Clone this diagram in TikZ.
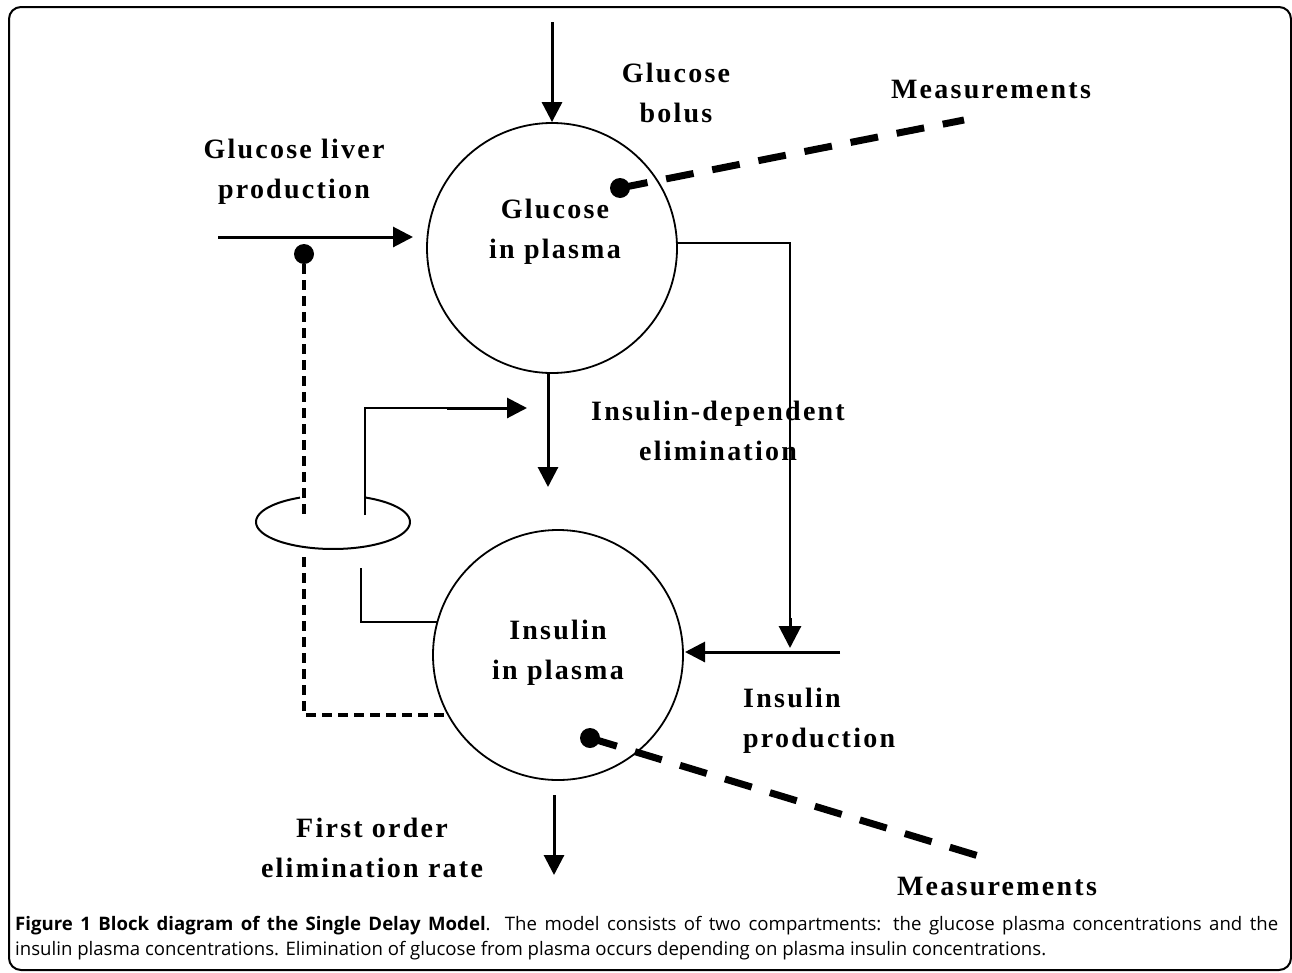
\documentclass[tikz,border=0pt]{standalone}
\usepackage{fontspec}
\setmainfont{Liberation Serif}
\newfontfamily\lab[LetterSpace=8]{Liberation Serif}
\newfontfamily\capfont{Open Sans}
\usetikzlibrary{arrows.meta}
\begin{document}
\begin{tikzpicture}[x=1pt,y=-1pt,
  lbl/.style={font=\lab\bfseries\fontsize{28}{40}\selectfont, inner sep=0, align=center},
  comp/.style={circle, draw, line width=1.8pt, minimum size=250pt, inner sep=0},
  flow/.style={line width=3pt, -{Triangle[length=20pt,width=20pt]}},
  thinline/.style={line width=2pt},
  meas/.style={line width=7pt, dash pattern=on 28pt off 19pt},
  ctrl/.style={line width=4pt, dash pattern=on 10pt off 6pt},
  dot/.style={circle, fill, minimum size=20pt, inner sep=0}]
\useasboundingbox (0,0) rectangle (1292,972);
% frame
\draw[line width=2pt, rounded corners=12pt] (9,7) rectangle (1291,970);

% compartments
\node[comp] (G) at (552,248) {};
\node[comp] (I) at (558,655) {};
\node[lbl] (Gt) at (555,232) {Glucose\\in plasma};
\node[lbl] (It) at (558,653) {Insulin\\in plasma};

% labels
\node[lbl] (bolus) at (676,93) {Glucose\\bolus};
\node[lbl] (m1) at (991,90) {Measurements};
\node[lbl] (liver) at (294,172) {Glucose liver\\production};
\node[lbl] (ide) at (718,431) {Insulin-dependent\\elimination};
\node[lbl, align=left, anchor=north west] (ip) at (743,688) {Insulin\\production};
\node[lbl] (foe) at (372,848) {First order\\elimination rate};
\node[lbl] (m2) at (997,886) {Measurements};

% coordinates
\coordinate (bolusS) at (552,22);
\coordinate (liverS) at (218,237);
\coordinate (liverE) at (413,237);
\coordinate (gout) at (548,373);
\coordinate (gdown) at (548,487);
\coordinate (gR) at (677,243);
\coordinate (gRc) at (790,243);
\coordinate (gRe) at (790,648);
\coordinate (gRm) at (790,618);
\coordinate (ipS) at (840,652);
\coordinate (ipE) at (685,652);
\coordinate (iout) at (554,795);
\coordinate (iend) at (554,875);
\coordinate (m1e) at (964,120);
\coordinate (m2e) at (982,857);
\coordinate (c1) at (304,517);
\coordinate (c2) at (304,557);
\coordinate (c3) at (304,715);
\coordinate (c4) at (448,715);
\coordinate (f1) at (365,515);
\coordinate (f2) at (365,408);
\coordinate (f3) at (447,408);
\coordinate (f4) at (527,408);
\coordinate (h1) at (361,568);
\coordinate (h2) at (361,622);
\coordinate (h3) at (438,622);

% dots
\node[dot] (dG) at (620,188) {};
\node[dot] (dL) at (304,254) {};
\node[dot] (dI) at (590,738) {};

% flows
\draw[flow] (bolusS) -- (G.north);
\draw[flow] (liverS) -- (liverE);
\draw[flow] (gout) -- (gdown);
\draw[thinline] (gR) -- (gRc) -- (gRm);
\draw[line width=3pt, -{Triangle[length=22pt,width=22pt]}] (gRm) -- (gRe);
\draw[flow] (ipS) -- (ipE);
\draw[flow] (iout) -- (iend);

% measurements
\draw[meas] (dG.center) -- (m1e);
\draw[meas] (dI.center) -- (m2e);

% control (dashed)
\draw[ctrl] (dL) -- (c1);
\draw[ctrl] (c2) -- (c3) -- (c4);

% insulin action ring
\draw[line width=2pt] plot[domain=-65.4:244.6, samples=80] ({333+77*cos(\x)},{522+27*sin(\x)});
\draw[thinline] (f1) -- (f2) -- (f3);
\draw[flow] (f3) -- (f4);
\draw[thinline] (h1) -- (h2) -- (h3);

% caption
\node[anchor=north west, inner sep=0, text width=1263pt, align=justify,
  font=\capfont\fontsize{18.6}{25}\selectfont] (cap) at (15,916)
  {\textbf{Figure 1 Block diagram of the Single Delay Model}. The model consists of two compartments: the glucose plasma concentrations and the\linebreak insulin plasma concentrations. Elimination of glucose from plasma occurs depending on plasma insulin concentrations.};
\end{tikzpicture}
\end{document}
